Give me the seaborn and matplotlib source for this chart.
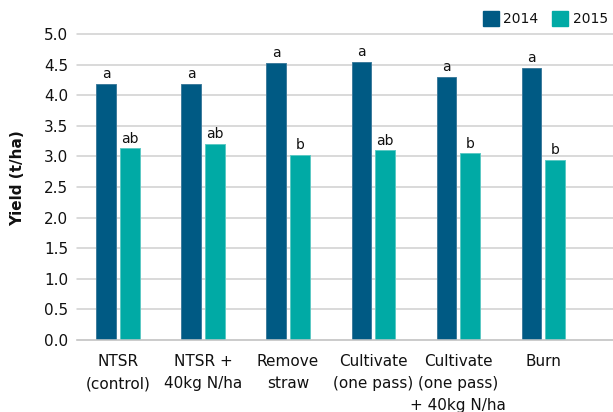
import matplotlib
matplotlib.use("Agg")
import matplotlib.pyplot as plt
from matplotlib.patches import Patch
import seaborn as sns
import pandas as pd

treatments = ["NTSR\n(control)", "NTSR +\n40kg N/ha", "Remove\nstraw",
              "Cultivate\n(one pass)", "Cultivate\n(one pass)\n+ 40kg N/ha", "Burn"]
yield_2014 = [4.18, 4.18, 4.53, 4.54, 4.30, 4.44]
yield_2015 = [3.13, 3.20, 3.03, 3.10, 3.05, 2.94]
letters_2014 = ["a", "a", "a", "a", "a", "a"]
letters_2015 = ["ab", "ab", "b", "ab", "b", "b"]
years = ["2014", "2015"]

colors = {"2014": "#005a84", "2015": "#00aaa5"}
edges = {"2014": "#3f7c9c", "2015": "#5cc9c4"}

df = pd.DataFrame({
    "treatment": treatments * 2,
    "year": ["2014"] * len(treatments) + ["2015"] * len(treatments),
    "yield": yield_2014 + yield_2015,
})

sns.set_style("white")
plt.rcParams["font.family"] = ["DejaVu Sans"]
plt.rcParams["text.color"] = "#111111"
plt.rcParams["axes.labelcolor"] = "#111111"
plt.rcParams["xtick.color"] = "#111111"
plt.rcParams["ytick.color"] = "#111111"

fig = plt.figure(figsize=(6.13, 4.12), dpi=100)
ax = fig.add_axes([77 / 613, 1 - 340 / 412, 1 - 77 / 613, 306 / 412])

sns.barplot(data=df, x="treatment", y="yield", hue="year", hue_order=years,
            palette=colors, saturation=1, width=0.556, gap=0.17, ax=ax,
            legend=False, linewidth=0.7, errorbar=None)

# lighter outline on each bar
for cont, yr in zip(ax.containers, years):
    for b in cont:
        b.set_edgecolor(edges[yr])

# significance letters
for cont, labs in zip(ax.containers, [letters_2014, letters_2015]):
    ax.bar_label(cont, labels=labs, padding=2, fontsize=10, color="#111111")

ax.set_ylim(0, 5.0)
ax.set_xlim(-0.482, 5.82)
ax.set_yticks([i / 2 for i in range(11)])
ax.set_yticklabels([f"{i / 2:.1f}" for i in range(11)], fontsize=11)
ax.tick_params(axis="y", length=0, pad=6.5)
ax.tick_params(axis="x", length=0, pad=10, labelsize=11)
for lab in ax.get_xticklabels():
    lab.set_linespacing(1.6)

ax.set_axisbelow(True)
ax.yaxis.grid(True, color="#d0d0d0", linewidth=1.1)
for gl in ax.get_ygridlines():
    gl.set_clip_on(False)

for s in ["top", "right", "left"]:
    ax.spines[s].set_visible(False)
ax.spines["bottom"].set_color("#c8c8c8")
ax.spines["bottom"].set_linewidth(1.1)

ax.set_xlabel("")
ax.set_ylabel("Yield (t/ha)", fontsize=11, fontweight="bold")
ax.yaxis.set_label_coords(-0.097, 0.528)

handles = [Patch(facecolor=colors[y], edgecolor=colors[y]) for y in years]
fig.legend(handles, years, loc="upper right", bbox_to_anchor=(1.0, 1 - 6 / 412),
           ncol=2, frameon=False, fontsize=10, handlelength=1.15,
           handleheight=1.3, handletextpad=0.34, columnspacing=1.0,
           borderaxespad=0.0, borderpad=0.35)

fig.savefig("out.png", dpi=100)
